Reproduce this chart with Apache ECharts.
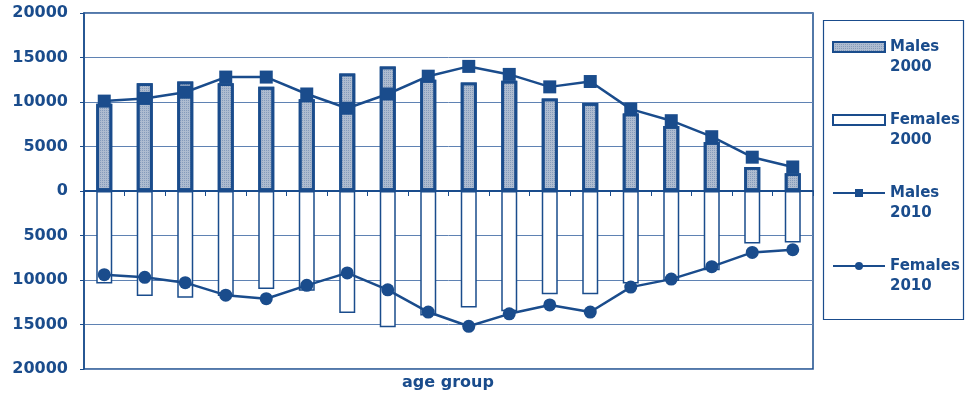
<!DOCTYPE html>
<html>
<head>
<meta charset="utf-8">
<title>Population by age group</title>
<script src="https://cdn.jsdelivr.net/npm/echarts@6/dist/echarts.min.js"></script>
<style>
  html, body { margin: 0; padding: 0; background: #ffffff; }
  #chart { width: 966px; height: 396px; }
</style>
</head>
<body>
<div id="chart"></div>
<script>
// Age groups along the category axis (labels are not displayed)
const ageGroups = ['0-4', '5-9', '10-14', '15-19', '20-24', '25-29', '30-34', '35-39', '40-44',
  '45-49', '50-54', '55-59', '60-64', '65-69', '70-74', '75-79', '80-84', '85+'];

// Males are plotted above the zero line, females below it
const males2000 = [9800, 12100, 12300, 12100, 11700, 10300, 13200, 14000, 12500,
  12200, 12400, 10400, 9900, 8700, 7300, 5500, 2700, 2000];
const females2000 = [-10400, -11800, -12000, -11800, -11000, -11200, -13700, -15300, -14000,
  -13100, -13500, -11600, -11600, -10400, -10100, -8900, -5900, -5800];
const males2010 = [10100, 10400, 11100, 12800, 12800, 10900, 9300, 10900, 12900,
  14000, 13100, 11700, 12300, 9200, 7900, 6100, 3800, 2700];
const females2010 = [-9400, -9700, -10300, -11700, -12100, -10600, -9200, -11100, -13600,
  -15200, -13800, -12800, -13600, -10800, -9900, -8500, -6900, -6600];

const seriesNames = ['Males 2000', 'Females 2000', 'Males 2010', 'Females 2010'];

const INK = '#1a4c8c';
const GRID = '#5f82b3';
const FONT = 'DejaVu Sans';

const chart = echarts.init(document.getElementById('chart'), null, { renderer: 'canvas' });

chart.setOption({
  animation: false,
  backgroundColor: '#ffffff',
  grid: {
    left: 84, right: 153, top: 13, bottom: 27,
    show: true, borderColor: INK, borderWidth: 1.5, containLabel: false
  },
  legend: {
    orient: 'vertical',
    left: 832,
    top: 17,
    padding: 0,
    itemWidth: 52,
    itemHeight: 10,
    itemGap: 13,
    selectedMode: false,
    // a blank first line keeps the series name level with its swatch,
    // the year sits on the line below
    formatter: (name) => ' \n' + name.replace(' ', '\n'),
    textStyle: {
      color: INK, fontFamily: FONT, fontWeight: 'bold', fontSize: 15,
      lineHeight: 20
    },
    data: [
      { name: seriesNames[0], icon: 'rect' },
      { name: seriesNames[1], icon: 'rect' },
      { name: seriesNames[2] },
      { name: seriesNames[3] }
    ]
  },
  graphic: [
    {
      type: 'rect',
      shape: { x: 823.5, y: 20.5, width: 140, height: 299 },
      style: { fill: 'none', stroke: INK, lineWidth: 1.2 },
      silent: true
    },
    {
      type: 'text',
      x: 448, y: 383,
      style: {
        text: 'age group', fill: INK, font: 'bold 16px "DejaVu Sans"',
        textAlign: 'center', textVerticalAlign: 'middle'
      },
      silent: true
    }
  ],
  xAxis: {
    type: 'category',
    data: ageGroups,
    boundaryGap: true,
    axisLine: { show: true, onZero: true, lineStyle: { color: INK, width: 2 } },
    axisTick: { show: true, length: 5, alignWithLabel: false, lineStyle: { color: INK, width: 1 } },
    axisLabel: { show: false },
    splitLine: { show: false }
  },
  yAxis: {
    type: 'value',
    min: -20000,
    max: 20000,
    interval: 5000,
    axisLine: { show: true, lineStyle: { color: INK, width: 1.5 } },
    axisTick: { show: true, length: 4, lineStyle: { color: INK, width: 1 } },
    axisLabel: {
      formatter: (v) => String(Math.abs(v)),
      color: INK, fontFamily: FONT, fontWeight: 'bold', fontSize: 16, margin: 16
    },
    splitLine: { show: true, lineStyle: { color: GRID, width: 1 } }
  },
  series: [
    {
      name: seriesNames[0],
      type: 'bar',
      data: males2000,
      barWidth: 16,
      barGap: '-100%',
      itemStyle: {
        color: '#aebcd0',
        borderColor: INK,
        borderWidth: 2.8,
        decal: {
          symbol: 'rect', symbolSize: 1,
          dashArrayX: [1, 1], dashArrayY: [1, 1],
          color: 'rgba(40, 80, 140, 0.3)'
        }
      },
      z: 2
    },
    {
      name: seriesNames[1],
      type: 'bar',
      data: females2000,
      barWidth: 16,
      barGap: '-100%',
      itemStyle: { color: '#ffffff', borderColor: INK, borderWidth: 1.5 },
      z: 2
    },
    {
      name: seriesNames[2],
      type: 'line',
      data: males2010,
      symbol: 'rect',
      symbolSize: 13,
      lineStyle: { color: INK, width: 2.5 },
      itemStyle: { color: INK },
      z: 5
    },
    {
      name: seriesNames[3],
      type: 'line',
      data: females2010,
      symbol: 'circle',
      symbolSize: 13,
      lineStyle: { color: INK, width: 2.5 },
      itemStyle: { color: INK },
      z: 5
    }
  ]
});
</script>
</body>
</html>
